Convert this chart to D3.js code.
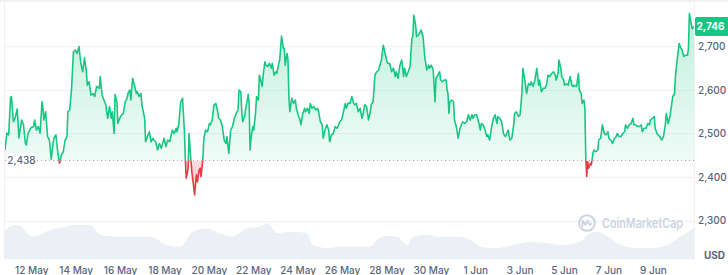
<!DOCTYPE html>
<html>
<head>
<meta charset="utf-8">
<script src="https://cdn.jsdelivr.net/npm/d3@7"></script>
<style>
	body { margin: 0; background: #fff; }
	svg { display: block; font-family: Inter, "Noto Sans", sans-serif; }
</style>
</head>
<body>
<div id="chart"></div>
<script>
// price series (hours after startTime, USD)
const startTime = "2025-05-10T19:00:00Z"
const spanHours = 745
const baseline = 2438
const lastPrice = 2746

const priceHours = [
	0, 2, 4, 6, 7, 9, 11, 13, 14, 15, 18, 20, 22, 23, 25, 28, 31, 32, 34, 36, 38, 40, 41, 42, 44, 46, 48, 50, 52, 53,
	55, 57, 59, 61, 63, 65, 67, 68, 70, 72, 74, 76, 78, 80, 82, 84, 86, 88, 89, 91, 93, 95, 97, 99, 102, 103, 105, 107, 109, 111,
	113, 115, 116, 118, 119, 121, 122, 124, 126, 128, 130, 132, 133, 135, 136, 138, 140, 142, 143, 145, 147, 148, 151, 152, 154, 156, 158, 160, 161, 163,
	165, 167, 169, 170, 172, 174, 176, 178, 181, 183, 185, 186, 188, 190, 192, 194, 195, 196, 198, 199, 201, 202, 204, 205, 207, 208, 210, 211, 212, 214,
	215, 217, 219, 221, 222, 224, 226, 228, 230, 231, 233, 235, 237, 239, 240, 242, 244, 246, 248, 250, 252, 253, 255, 256, 257, 259, 261, 263, 264, 265,
	266, 268, 269, 271, 272, 274, 275, 276, 278, 279, 281, 282, 284, 286, 288, 289, 291, 293, 294, 296, 297, 299, 301, 302, 303, 305, 306, 307, 308, 310,
	312, 314, 315, 317, 319, 320, 322, 324, 325, 327, 329, 330, 332, 334, 336, 338, 339, 341, 343, 344, 346, 348, 350, 351, 353, 355, 357, 359, 360, 362,
	364, 366, 368, 369, 371, 373, 375, 377, 378, 380, 382, 384, 386, 387, 389, 391, 393, 395, 396, 398, 400, 402, 404, 405, 407, 409, 411, 413, 414, 416,
	418, 420, 422, 423, 425, 427, 429, 431, 432, 434, 436, 438, 440, 441, 442, 444, 445, 447, 449, 450, 452, 454, 455, 456, 458, 459, 461, 463, 465, 466,
	468, 470, 471, 473, 475, 477, 478, 479, 480, 481, 483, 485, 486, 488, 490, 492, 494, 495, 497, 499, 501, 503, 505, 506, 508, 510, 512, 514, 515, 517,
	519, 521, 522, 524, 526, 528, 530, 532, 533, 535, 537, 539, 541, 542, 544, 546, 548, 550, 551, 553, 555, 557, 559, 560, 562, 564, 566, 568, 569, 571,
	573, 575, 577, 578, 580, 582, 584, 586, 587, 589, 591, 593, 595, 596, 598, 599, 601, 602, 604, 605, 607, 609, 611, 613, 614, 616, 618, 620, 621, 623,
	624, 626, 627, 628, 629, 630, 631, 633, 634, 636, 637, 639, 641, 642, 644, 646, 648, 650, 652, 653, 655, 657, 659, 661, 662, 664, 666, 668, 670, 671,
	673, 675, 677, 679, 680, 682, 684, 686, 688, 689, 691, 693, 695, 697, 698, 700, 702, 703, 705, 706, 708, 710, 712, 714, 715, 717, 719, 721, 722, 724,
	725, 727, 729, 730, 732, 734, 736, 738, 739, 740, 741, 743, 745
]
const prices = [
	2462, 2501, 2497, 2582, 2585, 2527, 2536, 2556, 2531, 2490, 2531, 2520, 2478, 2474, 2501, 2513, 2516, 2531, 2508, 2516, 2501, 2573, 2559, 2531, 2550, 2493, 2485, 2441, 2478, 2490,
	2497, 2458, 2432, 2451, 2458, 2485, 2493, 2550, 2554, 2604, 2688, 2692, 2684, 2700, 2661, 2642, 2674, 2642, 2611, 2619, 2588, 2592, 2585, 2608, 2604, 2631, 2588, 2577, 2566, 2535,
	2562, 2535, 2550, 2500, 2590, 2573, 2523, 2535, 2543, 2546, 2573, 2581, 2592, 2600, 2577, 2627, 2611, 2592, 2596, 2585, 2592, 2566, 2535, 2481, 2493, 2504, 2481, 2489, 2485, 2481,
	2462, 2477, 2466, 2474, 2489, 2470, 2485, 2481, 2508, 2500, 2512, 2504, 2523, 2573, 2581, 2504, 2439, 2397, 2420, 2500, 2439, 2412, 2378, 2359, 2405, 2389, 2416, 2420, 2401, 2443,
	2489, 2508, 2504, 2523, 2520, 2531, 2566, 2569, 2550, 2535, 2531, 2516, 2485, 2477, 2493, 2454, 2508, 2516, 2535, 2546, 2554, 2600, 2596, 2550, 2527, 2539, 2566, 2590, 2566, 2462,
	2489, 2516, 2508, 2550, 2585, 2577, 2634, 2627, 2608, 2631, 2665, 2657, 2654, 2661, 2650, 2661, 2634, 2642, 2638, 2661, 2669, 2724, 2696, 2696, 2657, 2684, 2669, 2581, 2550, 2581,
	2569, 2577, 2558, 2543, 2531, 2520, 2546, 2558, 2550, 2558, 2546, 2569, 2558, 2562, 2554, 2558, 2550, 2527, 2520, 2489, 2508, 2520, 2508, 2481, 2497, 2500, 2516, 2512, 2516, 2527,
	2531, 2550, 2569, 2558, 2570, 2569, 2585, 2569, 2566, 2569, 2550, 2558, 2535, 2543, 2566, 2562, 2531, 2550, 2566, 2573, 2634, 2642, 2646, 2654, 2669, 2703, 2684, 2665, 2661, 2661,
	2642, 2650, 2631, 2642, 2627, 2657, 2669, 2631, 2650, 2631, 2642, 2654, 2719, 2723, 2772, 2749, 2723, 2726, 2734, 2738, 2723, 2673, 2661, 2646, 2657, 2650, 2657, 2646, 2573, 2627,
	2634, 2642, 2623, 2619, 2623, 2623, 2600, 2592, 2546, 2573, 2577, 2573, 2531, 2516, 2489, 2512, 2523, 2527, 2523, 2527, 2543, 2531, 2543, 2535, 2543, 2543, 2527, 2508, 2523, 2520,
	2508, 2493, 2497, 2485, 2512, 2535, 2543, 2523, 2539, 2535, 2527, 2500, 2493, 2497, 2508, 2485, 2489, 2520, 2546, 2550, 2539, 2543, 2596, 2650, 2623, 2592, 2615, 2611, 2619, 2608,
	2623, 2650, 2611, 2623, 2596, 2604, 2604, 2615, 2634, 2631, 2638, 2642, 2634, 2623, 2638, 2669, 2650, 2631, 2623, 2611, 2615, 2611, 2631, 2611, 2608, 2611, 2608, 2638, 2600, 2592,
	2569, 2577, 2558, 2443, 2401, 2435, 2420, 2431, 2428, 2458, 2462, 2458, 2462, 2485, 2489, 2520, 2500, 2497, 2504, 2489, 2485, 2477, 2489, 2493, 2500, 2493, 2493, 2500, 2504, 2520,
	2512, 2520, 2523, 2535, 2520, 2520, 2516, 2516, 2520, 2504, 2512, 2512, 2523, 2520, 2531, 2535, 2539, 2512, 2500, 2497, 2493, 2485, 2493, 2520, 2546, 2523, 2539, 2569, 2585, 2592,
	2634, 2673, 2707, 2700, 2692, 2677, 2680, 2680, 2696, 2776, 2764, 2741, 2746
]

// 24h volume, billions USD
const volumeHours = [
	0, 5, 14, 30, 49, 59, 78, 92, 103, 121, 138, 157, 175, 189, 203, 218, 232, 246, 262, 276,
	284, 294, 308, 326, 333, 348, 362, 381, 395, 402, 413, 424, 435, 441, 456, 470, 489, 503, 514, 524,
	532, 549, 568, 586, 603, 622, 633, 641, 652, 666, 684, 701, 716, 730, 745
]
const volumes = [
	29, 32.6, 34.3, 22.6, 29.3, 31.3, 34.3, 34.3, 24.3, 22.6, 22.6, 22.6, 14.3, 12.6, 27.6, 31, 26, 22.6, 31, 32.6,
	36, 26, 27.6, 26.3, 14.3, 11.3, 12.6, 12.6, 12.6, 19.3, 23.3, 22.6, 14.3, 22.6, 24.3, 22.6, 22.6, 19.3, 12.6, 11.3,
	11.3, 14.3, 17.6, 16, 14.3, 17.6, 26, 27.6, 22.6, 14.3, 11.3, 11.3, 14.3, 22.6, 31
]

const yTicks = [2300, 2400, 2500, 2600, 2700]
const xTickDays = [
	"2025-05-12", "2025-05-14", "2025-05-16", "2025-05-18", "2025-05-20", "2025-05-22", "2025-05-24",
	"2025-05-26", "2025-05-28", "2025-05-30", "2025-06-01", "2025-06-03", "2025-06-05", "2025-06-07", "2025-06-09"
]

const config = {
	width: 728,
	height: 275,
	left: 5,
	right: 694,
	priceTop: 3,
	priceBottom: 220.5,
	volTop: 214.3,
	volBottom: 259.3,
	green: "#16c784",
	red: "#ea3943",
	textColor: "#58667e",
	gridColor: "#eff2f5",
}

const t0 = new Date(startTime)
const toDate = (h) => new Date(t0.getTime() + h * 3600e3)

const series = priceHours.map((h, i) => ({ t: toDate(h), v: prices[i] }))
const volSeries = volumeHours.map((h, i) => ({ t: toDate(h), v: volumes[i] }))

const x = d3.scaleUtc()
	.domain([t0, toDate(spanHours)])
	.range([config.left, config.right])
const y = d3.scaleLinear()
	.domain([2300, 2800])
	.range([config.priceBottom, config.priceTop])
const yVol = d3.scaleLinear()
	.domain([0, 45])
	.range([config.volBottom, config.volTop])

const svg = d3.select("#chart")
	.append("svg")
	.attr("width", config.width)
	.attr("height", config.height)

render()

function render() {
	_renderDefs()
	_renderVolume()
	_renderGrid()
	_renderWatermark()
	_renderPrice()
	_renderFrame()
	_renderAxes()
	_renderLabels()
}

function _renderDefs() {
	const defs = svg.append("defs")
	const yBase = y(baseline)

	defs.append("clipPath").attr("id", "above")
		.append("rect")
		.attr("x", 0).attr("y", 0)
		.attr("width", config.width).attr("height", yBase)
	defs.append("clipPath").attr("id", "below")
		.append("rect")
		.attr("x", 0).attr("y", yBase)
		.attr("width", config.width).attr("height", config.height - yBase)

	const g = defs.append("linearGradient")
		.attr("id", "greenFill")
		.attr("gradientUnits", "userSpaceOnUse")
		.attr("x1", 0).attr("x2", 0)
		.attr("y1", config.priceTop).attr("y2", yBase)
	g.append("stop").attr("offset", "0%").attr("stop-color", config.green).attr("stop-opacity", 0.28)
	g.append("stop").attr("offset", "100%").attr("stop-color", config.green).attr("stop-opacity", 0.07)

	const r = defs.append("linearGradient")
		.attr("id", "redFill")
		.attr("gradientUnits", "userSpaceOnUse")
		.attr("x1", 0).attr("x2", 0)
		.attr("y1", yBase).attr("y2", y(2350))
	r.append("stop").attr("offset", "0%").attr("stop-color", config.red).attr("stop-opacity", 0.18)
	r.append("stop").attr("offset", "100%").attr("stop-color", config.red).attr("stop-opacity", 0.28)
}

function _renderVolume() {
	const area = d3.area()
		.x((d) => x(d.t))
		.y0(config.volBottom)
		.y1((d) => yVol(d.v))
		.curve(d3.curveMonotoneX)

	svg.append("path")
		.datum(volSeries)
		.attr("class", "volume")
		.attr("fill", "#eceff3")
		.attr("d", area)
}

function _renderGrid() {
	svg.append("g")
		.attr("class", "grid")
		.selectAll("line")
		.data(yTicks)
		.enter()
		.append("line")
		.attr("x1", config.left)
		.attr("x2", config.right)
		.attr("y1", (d) => Math.round(y(d)) + 0.5)
		.attr("y2", (d) => Math.round(y(d)) + 0.5)
		.attr("stroke", config.gridColor)
		.attr("stroke-width", 1)
}

function _renderWatermark() {
	const wm = svg.append("g")
		.attr("class", "watermark")
		.attr("transform", "translate(587, 223)")
	const c = "#cdd4e0"

	wm.append("circle")
		.attr("r", 7.8)
		.attr("fill", "none")
		.attr("stroke", c)
		.attr("stroke-width", 2)
	wm.append("path")
		.attr("d", "M-4.5,3 L-4.5,-2.5 L-1.5,2 L0.5,-2.5 L2.5,2 L4.5,0.5")
		.attr("fill", "none")
		.attr("stroke", c)
		.attr("stroke-width", 1.8)
		.attr("stroke-linejoin", "round")
		.attr("stroke-linecap", "round")
	// keep the word inside the plot, clear of the axis labels
	wm.append("text")
		.attr("x", 15)
		.attr("y", 5)
		.attr("textLength", 81)
		.attr("lengthAdjust", "spacingAndGlyphs")
		.text("CoinMarketCap")
		.style("font-size", "13px")
		.style("font-weight", 600)
		.style("fill", c)
}

function _renderPrice() {
	const yBase = y(baseline)
	const area = d3.area()
		.x((d) => x(d.t))
		.y0(yBase)
		.y1((d) => y(d.v))
	const line = d3.line()
		.x((d) => x(d.t))
		.y((d) => y(d.v))

	svg.append("path")
		.datum(series)
		.attr("clip-path", "url(#above)")
		.attr("fill", "url(#greenFill)")
		.attr("d", area)
	svg.append("path")
		.datum(series)
		.attr("clip-path", "url(#below)")
		.attr("fill", "url(#redFill)")
		.attr("d", area)

	// dotted opening-price line
	svg.append("line")
		.attr("x1", config.left)
		.attr("x2", config.right)
		.attr("y1", Math.round(yBase) + 0.5)
		.attr("y2", Math.round(yBase) + 0.5)
		.attr("stroke", "#a6b0c3")
		.attr("stroke-width", 1)
		.attr("stroke-dasharray", "1 3")

	svg.append("path")
		.datum(series)
		.attr("clip-path", "url(#above)")
		.attr("fill", "none")
		.attr("stroke", config.green)
		.attr("stroke-width", 1.6)
		.attr("stroke-linejoin", "round")
		.attr("d", line)
	svg.append("path")
		.datum(series)
		.attr("clip-path", "url(#below)")
		.attr("fill", "none")
		.attr("stroke", config.red)
		.attr("stroke-width", 1.6)
		.attr("stroke-linejoin", "round")
		.attr("d", line)
}

function _renderFrame() {
	const f = svg.append("g").attr("class", "frame")
	f.append("rect")
		.attr("x", 0).attr("y", 0)
		.attr("width", config.width).attr("height", 2)
		.attr("fill", "#f1f3f6")
	f.append("line")
		.attr("x1", config.left - 0.5).attr("x2", config.left - 0.5)
		.attr("y1", 2).attr("y2", config.volBottom)
		.attr("stroke", config.gridColor)
	f.append("line")
		.attr("x1", config.right + 0.5).attr("x2", config.right + 0.5)
		.attr("y1", 2).attr("y2", config.volBottom)
		.attr("stroke", config.gridColor)
}

function _renderAxes() {
	const fmt = d3.utcFormat("%-d %b")

	svg.append("g")
		.attr("class", "x-labels")
		.selectAll("text")
		.data(xTickDays.map((d) => new Date(d + "T00:00:00Z")))
		.enter()
		.append("text")
		.attr("x", (d) => x(d))
		.attr("y", 273.5)
		.attr("text-anchor", "middle")
		.text(fmt)
		.style("font-size", "10px")
		.style("font-weight", 500)
		.style("fill", config.textColor)

	svg.append("g")
		.attr("class", "y-labels")
		.selectAll("text")
		.data(yTicks)
		.enter()
		.append("text")
		.attr("x", 698)
		.attr("y", (d) => y(d) + 3.8)
		.text(d3.format(","))
		.style("font-size", "10px")
		.style("font-weight", 500)
		.style("fill", config.textColor)

	svg.append("text")
		.attr("x", 704)
		.attr("y", 259)
		.text("USD")
		.style("font-size", "10px")
		.style("font-weight", 700)
		.style("fill", config.textColor)
}

function _renderLabels() {
	const yBase = y(baseline)

	// opening price tag on the left
	svg.append("rect")
		.attr("x", 7).attr("y", yBase - 7)
		.attr("width", 29).attr("height", 14)
		.attr("rx", 4)
		.attr("fill", "#fff")
	svg.append("text")
		.attr("x", 21.5)
		.attr("y", yBase + 3.6)
		.attr("text-anchor", "middle")
		.text(d3.format(",")(baseline))
		.style("font-size", "10px")
		.style("font-weight", 500)
		.style("fill", config.textColor)

	// current price tag on the right
	const yLast = y(lastPrice)
	svg.append("rect")
		.attr("x", 695).attr("y", yLast - 9.5)
		.attr("width", 36).attr("height", 19)
		.attr("rx", 2)
		.attr("fill", config.green)
	svg.append("text")
		.attr("x", 710.5)
		.attr("y", yLast + 3.8)
		.attr("text-anchor", "middle")
		.text(d3.format(",")(lastPrice))
		.style("font-size", "10px")
		.style("font-weight", 700)
		.style("fill", "#fff")
}
</script>
</body>
</html>
